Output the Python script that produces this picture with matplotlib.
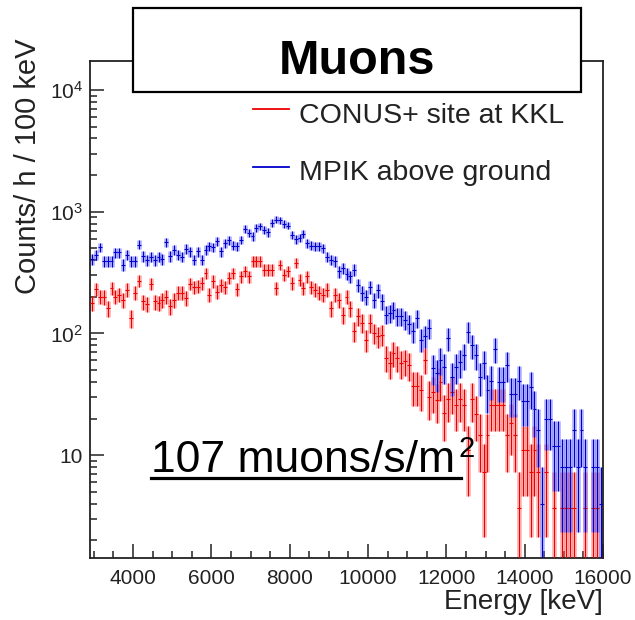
import numpy as np
import matplotlib
matplotlib.use('Agg')
import matplotlib.pyplot as plt
from matplotlib.patches import Rectangle
from matplotlib.lines import Line2D
from matplotlib.ticker import FixedLocator, FixedFormatter, MultipleLocator, NullFormatter

plt.rcParams['font.family'] = ['Liberation Sans', 'DejaVu Sans']
plt.rcParams['mathtext.fontset'] = 'custom'
plt.rcParams['mathtext.rm'] = 'Liberation Sans'
plt.rcParams['mathtext.it'] = 'Liberation Sans:italic'
plt.rcParams['mathtext.bf'] = 'Liberation Sans:bold'

# ---------------- data ----------------
energy_lo = 2900      # keV, histogram lower edge
energy_hi = 16000     # keV, histogram upper edge
bin_width = 100       # keV

# counts per hour per 100 keV (nan = empty bin)
nan = float('nan')
rate_kkl = [
    178, 231, 201, 199, 162, 236, 201, 208, 189, 229,   # 2950-3850
    134, 215, 271, 183, 175, 256, 183, 178, 189, 201,   # 3950-4850
    167, 189, 215, 215, 195, 256, 240, 243, 259, 313,   # 4950-5850
    208, 268, 221, 251, 240, 285, 313, 231, 294, 323,   # 5950-6850
    294, 391, 391, 391, 334, 334, 334, 236, 367, 304,   # 6950-7850
    323, 259, 379, 276, 236, 294, 240, 229, 215, 208,   # 7950-8850
    229, 162, 208, 189, 143, 201, 162, 104, 138, 122,   # 8950-9850
    89, 122, 101, 95, 98, 63, 57, 69, 63, 57,           # 9950-10850
    59, 55, 37, 37, 34, 61, 30, 33, 28.5, 40,           # 10950-11850
    22, 29.2, 32.9, 25.6, 29.2, 25.6, 11, 29.2, 21.9, 14.6,   # 11950-12850
    7.3, 14.6, 25.6, 25.6, 25.6, 25.6, 14.6, 18.3, 14.6, 3.65,  # 12950-13850
    11, 11, 7.3, 11, 7.3, nan, 7.3, nan, 3.65, nan,     # 13950-14850
    3.65, 3.65, 3.65, 3.65, nan, nan, 3.65, nan, 3.65, 3.65,  # 14950-15850
    nan,                                                # 15950
]
rate_mpik = [
    408, 443, 509, 391, 391, 391, 463, 463, 367, 443,   # 2950-3850
    391, 391, 536, 430, 398, 424, 398, 424, 408, 560,   # 3950-4850
    430, 488, 443, 424, 494, 472, 403, 472, 403, 488,   # 4950-5850
    519, 509, 571, 472, 553, 581, 526, 519, 589, 721,   # 5950-6850
    668, 627, 734, 758, 711, 676, 807, 860, 849, 797,   # 6950-7850
    770, 647, 596, 608, 660, 553, 526, 519, 519, 503,   # 7950-8850
    424, 403, 391, 323, 344, 309, 294, 334, 251, 215,   # 8950-9850
    201, 240, 189, 226, 183, 143, 147, 157, 138, 138,   # 9950-10850
    130, 120, 104, 134, 89, 95, 111, 52, 47, 61,        # 10950-11850
    53, 91, 44, 53, 58, 66, 103, 80, 66, 44,            # 11950-12850
    57, 34, 41, 75, 40, 40, 55, 32, 32, 41,             # 12950-13850
    28, 28, 36, 24, 16, 4, 20, 20, 12, 12,              # 13950-14850
    8, 8, 8, 16, 8, 16, 8, nan, 8, 8,                   # 14950-15850
    4,                                                  # 15950
]
# rate corresponding to one recorded count (sets the Poisson error bars)
unit_kkl = 3.65
unit_mpik = 4.0

label_kkl = 'CONUS+ site at KKL'
label_mpik = 'MPIK above ground'
x_ticks = [4000, 6000, 8000, 10000, 12000, 14000, 16000]
y_ticks = [10, 100, 1000, 10000]
y_tick_labels = ['10', r'$10^{2}$', r'$10^{3}$', r'$10^{4}$']

# ---------------- figure ----------------
W, H = 635, 620
fig = plt.figure(figsize=(W / 100, H / 100), dpi=100)

def fx(px):
    return px / W

def fy(py):
    return (H - py) / H

ax = fig.add_axes([fx(90), fy(558), fx(603) - fx(90), fy(61) - fy(558)])
ax.set_yscale('log', nonpositive='clip')
ax.set_xlim(energy_lo, energy_hi)
ax.set_ylim(1.43, 17300)

centers = np.arange(energy_lo + bin_width / 2, energy_hi, bin_width)


def draw(rates, unit, color, halo):
    v = np.array(rates, dtype=float)
    err = np.sqrt(v * unit)
    lo = np.minimum(err, v - 1e-3)
    ok = ~np.isnan(v)
    ax.vlines(centers[ok], (v - lo)[ok], (v + err)[ok], color=halo,
              lw=3.4, alpha=0.42, zorder=2)
    ax.errorbar(centers[ok], v[ok], xerr=bin_width / 2,
                yerr=[lo[ok], err[ok]], fmt='none', ecolor=color,
                elinewidth=0.8, capsize=0, zorder=3)


draw(rate_kkl, unit_kkl, '#ee0000', '#ff5050')
draw(rate_mpik, unit_mpik, '#0000cc', '#5050ff')

# axes styling (ROOT-like)
for s in ax.spines.values():
    s.set_color('#222222')
    s.set_linewidth(1.3)
ax.xaxis.set_major_locator(FixedLocator(x_ticks))
ax.xaxis.set_minor_locator(MultipleLocator(500))
ax.yaxis.set_major_locator(FixedLocator(y_ticks))
ax.yaxis.set_major_formatter(FixedFormatter(y_tick_labels))
ax.yaxis.set_minor_formatter(NullFormatter())
ax.tick_params(which='both', direction='in', top=False, right=False,
               colors='#222222', width=1.1, labelsize=15)
ax.tick_params(which='major', length=10)
ax.tick_params(which='minor', length=5)
ax.tick_params(axis='x', pad=8)
ax.tick_params(axis='y', pad=5)

# axis titles
fig.text(fx(28), fy(39), 'Counts/ h / 100 keV', rotation=90, ha='center',
         va='top', fontsize=21, color='#222222')
fig.text(fx(603), fy(609), 'Energy [keV]', ha='right', va='baseline',
         fontsize=20, color='#222222')

# legend
fig.add_artist(Line2D([fx(253), fx(289)], [fy(109), fy(109)],
                      transform=fig.transFigure, color='#ee0000', lw=1.3))
fig.add_artist(Line2D([fx(253), fx(289)], [fy(167), fy(167)],
                      transform=fig.transFigure, color='#0000cc', lw=1.3))
fig.text(fx(299), fy(123), label_kkl, ha='left', va='baseline', fontsize=20.5,
         color='#222222')
fig.text(fx(299), fy(180), label_mpik, ha='left', va='baseline', fontsize=20.5,
         color='#222222')

# title box
fig.add_artist(Rectangle((fx(133), fy(92)), fx(581) - fx(133), fy(8) - fy(92),
                         transform=fig.transFigure, facecolor='white',
                         edgecolor='black', lw=1.6, zorder=10))
fig.text(fx(357), fy(74), 'Muons', ha='center', va='baseline', fontsize=35,
         fontweight='bold', color='black', zorder=11)

# annotation
fig.text(fx(151), fy(472), '107 muons/s/m', ha='left', va='baseline',
         fontsize=32, color='black', zorder=11)
fig.text(fx(459), fy(457), '2', ha='left', va='baseline', fontsize=21,
         color='black', zorder=11)
fig.add_artist(Line2D([fx(151), fx(461)], [fy(478), fy(478)],
                      transform=fig.transFigure, color='black', lw=2.3,
                      zorder=11))

fig.savefig('out.png', dpi=100)
